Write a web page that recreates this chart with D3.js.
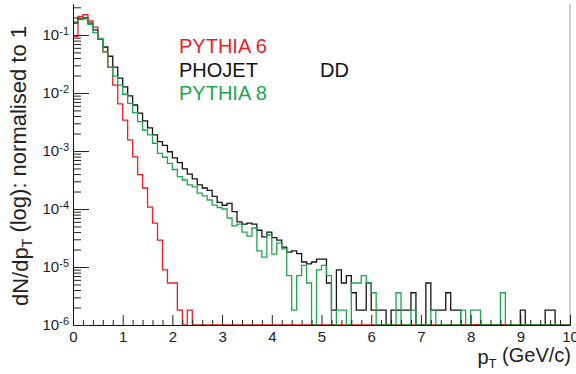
<!DOCTYPE html>
<html>
<head>
<meta charset="utf-8">
<script src="https://d3js.org/d3.v7.min.js"></script>
<style>
  body { margin: 0; background: #fff; }
  svg { display: block; font-family: "Liberation Sans", Arial, sans-serif; }
</style>
</head>
<body>
<script>
// binning in pT (GeV/c)
var ptMin = 0, ptMax = 10, nBins = 100;
var binEdges = d3.range(nBins).map(function(i) { return ptMin + i * (ptMax - ptMin) / nBins; });

// tick labels
var xTickLabels = [0, 1, 2, 3, 4, 5, 6, 7, 8, 9, 10];
var yTickExps = [-6, -5, -4, -3, -2, -1];

// normalised dN/dpT per 0.1 GeV/c bin (0 = empty bin)
var pythia6 = [
  0.095, 0.21, 0.225, 0.174, 0.137, 0.085, 0.051, 0.028, 0.0137, 0.0065,
  0.0034, 0.00155, 0.00079, 0.00039, 0.00023, 0.000108, 0.000057, 0.000029, 8.9e-6, 5.3e-6,
  5.3e-6, 1.8e-6, 0, 1.8e-6, 0, 0, 0, 0, 0, 0,
  0, 0, 0, 0, 0, 0, 0, 0, 0, 0,
  0, 0, 0, 0, 0, 0, 0, 0, 0, 0,
  0, 0, 0, 0, 0, 0, 0, 0, 0, 0,
  0, 0, 0, 0, 0, 0, 0, 0, 0, 0,
  0, 0, 0, 0, 0, 0, 0, 0, 0, 0,
  0, 0, 0, 0, 0, 0, 0, 0, 0, 0,
  0, 0, 0, 0, 0, 0, 0, 0, 0, 0
];
var phojet = [
  0.161, 0.189, 0.196, 0.16, 0.122, 0.085, 0.062, 0.043, 0.028, 0.018,
  0.0127, 0.0089, 0.0062, 0.0045, 0.0033, 0.0025, 0.0019, 0.00145, 0.00125, 0.00097,
  0.00076, 0.00063, 0.00049, 0.0004, 0.00033, 0.00026, 0.00023, 0.00021, 0.000165, 0.00013,
  0.000116, 0.000125, 0.00009, 0.00006, 0.000055, 0.000057, 0.000055, 0.000043, 0.000033, 0.00004,
  0.000032, 0.000029, 0.000022, 0.000018, 0.000019, 0.000017, 0.0000122, 0.0000113, 0.0000122, 0.0000137,
  0.0000137, 5.3e-6, 1.8e-6, 8.9e-6, 5.3e-6, 7.1e-6, 3.6e-6, 1.8e-6, 1.8e-6, 5.3e-6,
  1.8e-6, 1.8e-6, 1.8e-6, 0, 1.8e-6, 1.8e-6, 1.8e-6, 1.8e-6, 3.6e-6, 0,
  0, 5.3e-6, 1.8e-6, 1.8e-6, 1.8e-6, 3.6e-6, 1.8e-6, 1.8e-6, 0, 0,
  0, 0, 0, 0, 0, 0, 0, 0, 0, 0,
  1.8e-6, 0, 0, 0, 0, 1.8e-6, 1.8e-6, 0, 0, 0
];
var pythia8 = [
  0.168, 0.185, 0.19, 0.153, 0.11, 0.087, 0.051, 0.028, 0.0195, 0.0137,
  0.0095, 0.0066, 0.0046, 0.0032, 0.0023, 0.0019, 0.00136, 0.00091, 0.00078, 0.00061,
  0.00048, 0.00036, 0.000316, 0.00026, 0.00024, 0.000187, 0.000168, 0.000143, 0.000117, 0.000106,
  0.0001, 0.00007, 0.000051, 0.000055, 0.00004, 0.000034, 0.000047, 0.000019, 0.0000148, 0.0000356,
  0.0000167, 0.000026, 0.0000205, 7.1e-6, 1.8e-6, 7.1e-6, 1.07e-5, 5.3e-6, 0, 8.9e-6,
  1.07e-5, 7.1e-6, 0, 1.8e-6, 1.8e-6, 0, 5.3e-6, 5.3e-6, 7.1e-6, 5.3e-6,
  3.6e-6, 0, 0, 0, 0, 3.6e-6, 0, 0, 1.8e-6, 0,
  0, 0, 1.8e-6, 0, 0, 0, 0, 0, 1.8e-6, 0,
  1.8e-6, 1.8e-6, 0, 0, 0, 0, 3.6e-6, 0, 0, 0,
  0, 0, 0, 0, 0, 0, 0, 0, 0, 0
];

var W = 576, H = 374;
var frame = {left: 73, right: 570, top: 4, bottom: 325};
var yMin = 1e-6, yMax = 0.342;

var svg = d3.select("body").append("svg")
  .attr("width", W)
  .attr("height", H);

var x = d3.scaleLinear().domain([ptMin, ptMax]).range([frame.left, frame.right]);
var y = d3.scaleLog().domain([yMin, yMax]).range([frame.bottom, frame.top]);

// step histogram, empty bins sit on the bottom of the frame
var hist = d3.line()
  .x(function(d) { return x(d[0]); })
  .y(function(d) { return y(Math.max(d[1], yMin)); })
  .curve(d3.curveStepAfter);

function points(vals) {
  var pts = binEdges.map(function(e, i) { return [e, vals[i]]; });
  pts.push([ptMax, vals[vals.length - 1]]);
  return pts;
}

var series = [
  {vals: phojet, color: "#151515"},
  {vals: pythia6, color: "#ee1c25"},
  {vals: pythia8, color: "#1fa64a"}
];

svg.selectAll("path.hist")
  .data(series)
  .enter()
  .append("path")
  .attr("class", "hist")
  .attr("d", function(d) { return hist(points(d.vals)); })
  .attr("fill", "none")
  .attr("stroke", function(d) { return d.color; })
  .attr("stroke-width", 1.3);

// right frame line
svg.append("line")
  .attr("x1", frame.right).attr("x2", frame.right)
  .attr("y1", frame.top).attr("y2", frame.bottom)
  .attr("stroke", "#999")
  .attr("stroke-width", 1);

// x axis: major and minor ticks pointing up
var xMinor = d3.range(0, 10.01, 0.2).filter(function(v) { return Math.abs(v - Math.round(v)) > 0.01; });
svg.append("g")
  .attr("class", "x minor")
  .attr("transform", "translate(0," + frame.bottom + ")")
  .call(d3.axisBottom(x).tickValues(xMinor).tickSizeInner(-5).tickSizeOuter(0).tickFormat(""));
svg.append("g")
  .attr("class", "x axis")
  .attr("transform", "translate(0," + frame.bottom + ")")
  .call(d3.axisBottom(x).tickValues(xTickLabels).tickSizeInner(-10).tickSizeOuter(0).tickPadding(6).tickFormat(d3.format("d")));

// y axis: decades + 2..9 minors pointing right
var yMajor = yTickExps.map(function(e) { return Math.pow(10, e); });
var yMinor = [];
yTickExps.forEach(function(e) {
  for (var k = 2; k <= 9; k++) {
    var v = k * Math.pow(10, e);
    if (v <= yMax) yMinor.push(v);
  }
});
svg.append("g")
  .attr("class", "y minor")
  .attr("transform", "translate(" + frame.left + ",0)")
  .call(d3.axisLeft(y).tickValues(yMinor).tickSizeInner(-8).tickSizeOuter(0).tickFormat(""));
var yAxisG = svg.append("g")
  .attr("class", "y axis")
  .attr("transform", "translate(" + frame.left + ",0)")
  .call(d3.axisLeft(y).tickValues(yMajor).tickSizeInner(-16).tickSizeOuter(0).tickPadding(4).tickFormat(""));

yAxisG.selectAll(".tick text")
  .each(function(d) {
    var t = d3.select(this);
    t.append("tspan").text("10");
    t.append("tspan")
      .attr("dy", "-0.5em")
      .attr("font-size", "11px")
      .text(String(Math.round(Math.log10(d))));
  });

svg.selectAll(".axis path, .minor path").attr("stroke", "#111");
svg.selectAll(".tick line").attr("stroke", "#222");
svg.selectAll(".axis text")
  .attr("font-size", "15px")
  .attr("font-family", "Liberation Sans, Arial, sans-serif")
  .attr("fill", "#222");

// axis titles
var yTitle = svg.append("text")
  .attr("transform", "translate(28,166) rotate(-90)")
  .attr("text-anchor", "middle")
  .attr("font-size", "22px")
  .attr("fill", "#222");
yTitle.append("tspan").text("dN/dp");
yTitle.append("tspan").attr("dy", "0.3em").attr("font-size", "14px").text("T");
yTitle.append("tspan").attr("dy", "-0.3em").text(" (log): normalised to 1");

var xTitle = svg.append("text")
  .attr("x", 571)
  .attr("y", 364)
  .attr("text-anchor", "end")
  .attr("font-size", "20px")
  .attr("fill", "#222");
xTitle.append("tspan").text("p");
xTitle.append("tspan").attr("dy", "0.3em").attr("font-size", "13px").text("T");
xTitle.append("tspan").attr("dy", "-0.3em").text(" (GeV/c)");

// legend
var legendItems = [
  {label: "PYTHIA 6", color: "#ee1c25", y: 53},
  {label: "PHOJET", color: "#111", y: 77},
  {label: "PYTHIA 8", color: "#1fa64a", y: 100}
];
svg.selectAll("text.legend")
  .data(legendItems)
  .enter()
  .append("text")
  .attr("class", "legend")
  .attr("x", 179)
  .attr("y", function(d) { return d.y; })
  .attr("font-size", "20px")
  .attr("fill", function(d) { return d.color; })
  .text(function(d) { return d.label; });

svg.append("text")
  .attr("x", 320)
  .attr("y", 77)
  .attr("font-size", "20px")
  .attr("fill", "#111")
  .text("DD");
</script>
</body>
</html>
